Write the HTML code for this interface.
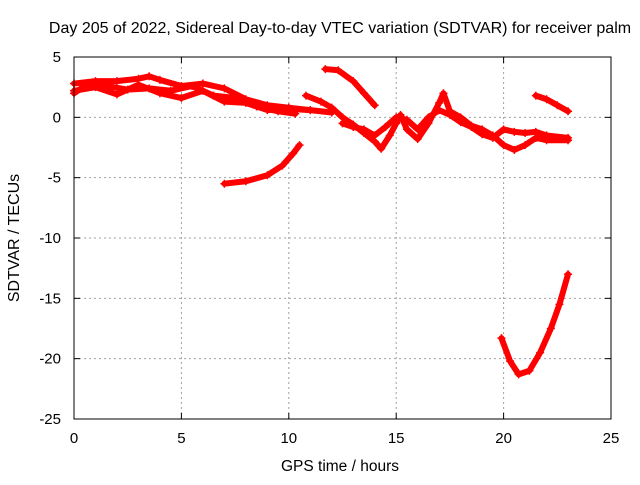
<!DOCTYPE html>
<html><head><meta charset="utf-8"><style>
body{margin:0;background:#fff}
text{font-family:"Liberation Sans",sans-serif;font-size:15px;fill:#000}
.t{font-size:16px}
</style></head><body>
<svg id="chart" width="640" height="480">
<text class="t" x="340" y="33" text-anchor="middle">Day 205 of 2022, Sidereal Day-to-day VTEC variation (SDTVAR) for receiver palm</text>
<text class="t" x="340" y="471" text-anchor="middle" style="font-size:15.5px">GPS time / hours</text>
<text class="t" transform="translate(19,238) rotate(-90)" text-anchor="middle">SDTVAR / TECUs</text>
<g id="grid"></g><g id="series"></g>
<rect x="74" y="57" width="537" height="362" fill="none" stroke="#000"/>
<g id="ticks"></g>
</svg>
<script>
const xTicks=[0,5,10,15,20,25];
const yTicks=[5,0,-5,-10,-15,-20,-25];
const traceA=[[0,2.8],[1,3],[2,3],[3,3.2],[3.5,3.4],[4,3.1],[5,2.6],[6,2.8],[7,2.4],[8,1.5],[9,1.0],[10,0.8],[11,0.6],[12,0.4]];
const traceB=[[0,2.2],[1,2.5],[2,1.9],[3,2.7],[4,2.0],[5,1.6],[6,2.2],[7,1.3],[8,1.2],[9,0.6],[10,0.7],[11,0.6]];
const traceC=[[0,2.0],[0.5,2.6],[1.5,2.6],[2.5,2.3],[3.5,2.4],[4.5,2.2],[5.5,2.6],[6.5,1.8],[7.5,1.6],[8.5,0.9],[9.5,0.5],[10.3,0.3]];
const traceD=[[10.8,1.8],[11.5,1.3],[12,0.8],[12.5,0],[13,-0.6],[13.5,-1.3],[14,-2.0],[14.3,-2.6],[14.7,-1.5],[15,-0.5],[15.2,0.2],[15.5,-1.0],[16,-1.8],[16.5,-0.5],[17,1.2],[17.2,2.0],[17.5,0.5],[18,0],[18.5,-0.7],[19,-1.0],[19.5,-1.5],[20,-2.3],[20.5,-2.7],[21,-2.3],[21.5,-1.7],[22,-1.9],[23,-1.9]];
const traceE=[[12.5,-0.5],[13,-0.8],[13.5,-1.0],[14,-1.5],[14.5,-0.8],[15,0],[15.5,-0.2],[16,-1.0],[16.5,0],[17,0.6],[17.5,0.2],[18,-0.4],[18.5,-0.8],[19,-1.4],[19.5,-1.7],[20,-1.0],[20.5,-1.2],[21,-1.3],[21.5,-1.2],[22,-1.5],[23,-1.7]];
const traceF=[[11.7,4.0],[12.3,3.9],[13,3.0],[13.5,2.0],[14,1.0]];
const traceG=[[21.5,1.8],[22,1.5],[22.5,1.0],[23,0.5]];
const traceH=[[7,-5.5],[8,-5.3],[9,-4.8],[9.7,-4.0],[10.2,-3.0],[10.5,-2.3]];
const traceI=[[19.9,-18.3],[20.3,-20.2],[20.7,-21.3],[21.2,-21.0],[21.7,-19.5],[22.2,-17.5],[22.6,-15.5],[23,-13]];
const traces=[traceA,traceB,traceC,traceD,traceE,traceF,traceG,traceH,traceI];
const X=v=>74+v*537/25, Y=v=>57+(5-v)*362/30;
const NS="http://www.w3.org/2000/svg";
const grid=document.getElementById('grid'),ticks=document.getElementById('ticks'),ser=document.getElementById('series');
function mk(tag,attrs,parent){const e=document.createElementNS(NS,tag);for(const k in attrs)e.setAttribute(k,attrs[k]);parent.appendChild(e);return e;}
xTicks.forEach(t=>{const x=X(t);
 if(t>0&&t<25){const g=mk('line',{x1:x,x2:x,y1:57,y2:419,stroke:'#a0a0a0','stroke-dasharray':'2,3'},grid);
 
 }
 mk('line',{x1:x,x2:x,y1:419,y2:413,stroke:'#000'},ticks);mk('line',{x1:x,x2:x,y1:57,y2:63,stroke:'#000'},ticks);
 const l=mk('text',{x:x,y:443,'text-anchor':'middle'},ticks);l.textContent=t;
 
 });
yTicks.forEach(t=>{const y=Y(t);
 if(t<5&&t>-25){const g=mk('line',{x1:74,x2:611,y1:y,y2:y,stroke:'#a0a0a0','stroke-dasharray':'2,3'},grid);
 
 }
 mk('line',{x1:74,x2:80,y1:y,y2:y,stroke:'#000'},ticks);mk('line',{x1:611,x2:605,y1:y,y2:y,stroke:'#000'},ticks);
 const l=mk('text',{x:61,y:y+5,'text-anchor':'end'},ticks);l.textContent=t;
 
 });
traces.forEach((tr,i)=>{
 const p=mk('polyline',{points:tr.map(d=>X(d[0])+','+Y(d[1])).join(' '),fill:'none',stroke:'#f00','stroke-width':6,'stroke-linejoin':'round','stroke-linecap':'round'},ser);
 
 
 tr.forEach(d=>{const x=X(d[0]),y=Y(d[1]);
  const m=mk('path',{d:`M${x-4},${y}H${x+4}M${x},${y-4}V${y+4}`,stroke:'#f00','stroke-width':1.5},ser);
  
  });
});
</script>
</body></html>
